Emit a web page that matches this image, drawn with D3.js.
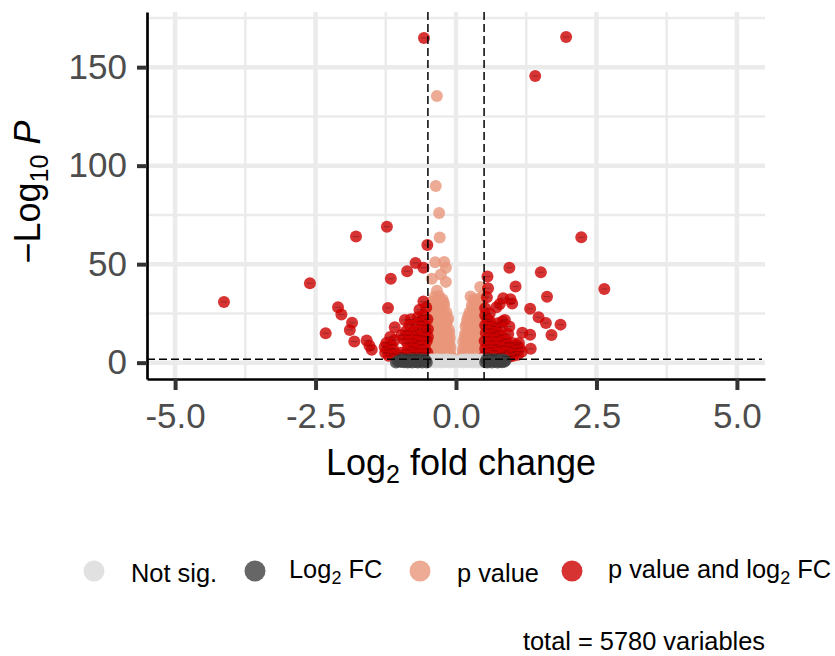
<!DOCTYPE html>
<html>
<head>
<meta charset="utf-8">
<script src="https://cdn.jsdelivr.net/npm/d3@7"></script>
<style type="text/css">
  html, body { margin: 0; padding: 0; background: white; }
  svg { display: block; }
  text { font-family: 'Liberation Sans', Arial, sans-serif; }
  .tickLabel { fill: #4d4d4d; font-size: 35px; }
  .title { fill: black; font-size: 36px; }
  .legendText { fill: black; font-size: 25.4px; }
</style>
</head>
<body>
<svg id="chart" width="835" height="656"></svg>
<script>

var xTicks = [-5, -2.5, 0, 2.5, 5];
var xMinorTicks = [-3.75, -1.25, 1.25, 3.75];
var yTicks = [0, 50, 100, 150];
var yMinorTicks = [25, 75, 125, 175];
var fcCutoffs = [-0.5, 0.5];
var pCutoff = 1.7;

var legendLabels = ['Not sig.', 'Log2 FC', 'p value', 'p value and log2 FC'];
var captionText = 'total = 5780 variables';

// [log2 fold change, -log10 p]
var notSigPoints = [
  [-0.49,0.4],[-0.47,1.3],[-0.45,0.2],[-0.43,1.7],[-0.41,0.8],[-0.39,1.5],[-0.37,0.1],[-0.35,1.1],[-0.33,1.7],[-0.31,0.4],
  [-0.29,1.3],[-0.27,0.1],[-0.25,1.6],[-0.23,0.7],[-0.21,1.2],[-0.19,0.2],[-0.17,1.7],[-0.15,0.5],[-0.13,1.1],[-0.11,0.1],
  [-0.09,1.5],[-0.07,0.6],[-0.05,1.2],[-0.03,0.3],
  [0.05,0.3],[0.07,1.2],[0.09,0.6],[0.11,1.6],[0.13,0.1],[0.15,1.1],[0.17,0.5],[0.19,1.7],[0.21,0.2],[0.23,1.3],
  [0.25,0.7],[0.27,1.6],[0.29,0.1],[0.31,1.2],[0.33,0.4],[0.35,1.7],[0.37,0.8],[0.39,0.1],[0.41,1.4],[0.43,0.5],
  [0.45,1.7],[0.47,0.2],[0.49,1.1]
];
var fcPoints = [
  [-1.07,0.1],[-1.04,0.7],[-1.01,1.0],[-0.98,0.3],[-0.96,1.7],[-0.94,1.1],[-0.92,0.2],[-0.9,0.8],[-0.88,1.6],[-0.86,0.1],
  [-0.84,1.2],[-0.82,0.5],[-0.8,1.7],[-0.78,0.1],[-0.76,1],[-0.74,1.6],[-0.72,0.3],[-0.7,1.2],[-0.68,0.1],[-0.66,1.7],
  [-0.64,0.6],[-0.62,1.2],[-0.6,0.1],[-0.58,1.6],[-0.56,0.6],[-0.54,1.2],[-0.52,0.1],
  [0.52,0.2],[0.54,1.3],[0.56,0.1],[0.58,1.7],[0.6,0.8],[0.62,1.5],[0.64,0.1],[0.66,1.1],[0.68,1.7],[0.7,0.4],
  [0.72,1.2],[0.74,0.1],[0.76,1.6],[0.78,0.6],[0.8,1.1],[0.82,0.2],[0.84,1.6],[0.86,0.5],[0.88,1.1]
];
var pPoints = [
  [-0.36,89.7],[-0.3,76],[-0.29,63.5],[-0.37,51],[-0.21,51.1],[-0.18,48.2],[-0.27,44.7],[-0.43,42.6],[-0.18,41],[-0.34,135.4],
  [-0.34,36.5],[-0.38,33.5],[-0.3,33.8],[-0.24,32],[-0.42,31],[-0.35,30.5],[-0.28,29.6],[-0.21,29],[-0.45,27],[-0.38,26.5],
  [-0.32,27],[-0.25,26],[-0.17,25.5],[-0.47,23],[-0.41,23.5],[-0.35,22.6],[-0.28,22.8],[-0.21,22],[-0.15,21.5],[-0.47,18.5],
  [-0.4,19],[-0.33,18],[-0.26,18.6],[-0.19,17.5],[-0.13,17],[-0.48,14],[-0.42,14.6],[-0.36,13.6],[-0.29,14],[-0.22,13.5],
  [-0.16,13.2],[-0.11,12.5],[-0.47,9.5],[-0.41,10],[-0.34,9.2],[-0.27,9.8],[-0.2,9],[-0.14,8.8],[-0.1,8],[-0.48,5],
  [-0.42,5.6],[-0.35,4.8],[-0.28,5.3],[-0.21,4.6],[-0.15,4.4],[-0.1,4],
  [-0.31,32],[-0.36,28.5],[-0.27,31],[-0.43,28.8],[-0.22,30.6],[-0.44,25],[-0.39,24.6],[-0.33,24.8],[-0.27,24.2],[-0.2,24.5],
  [-0.45,21],[-0.38,20.8],[-0.31,20.5],[-0.24,20.2],[-0.17,19.8],[-0.14,22.5],[-0.44,16.5],[-0.37,16.2],[-0.3,16],[-0.23,15.8],
  [-0.16,15.4],[-0.12,15],[-0.45,12],[-0.39,12],[-0.32,11.6],[-0.25,11.4],[-0.18,11],[-0.12,10.6],[-0.44,7.5],[-0.38,7.2],
  [-0.31,7],[-0.24,7.2],[-0.17,6.6],[-0.11,6.2],[-0.45,3.2],[-0.38,3],[-0.31,3.4],[-0.24,3],[-0.17,3.2],[-0.12,3],
  [0.43,38.4],[0.26,33.6],[0.48,34],[0.35,30.5],[0.44,30],[0.28,29],[0.4,26.5],[0.24,25.5],[0.32,26],[0.48,26],
  [0.2,22],[0.27,21.6],[0.36,22.4],[0.44,21.8],[0.17,18.5],[0.23,18],[0.31,18.2],[0.39,17.6],[0.47,18],[0.16,14.5],
  [0.21,14],[0.28,13.6],[0.35,14.2],[0.42,13.5],[0.48,14],[0.13,10.5],[0.19,10],[0.25,9.6],[0.32,10.2],[0.39,9.5],
  [0.45,10],[0.12,6.5],[0.17,6],[0.23,5.6],[0.3,6.2],[0.36,5.5],[0.43,6],[0.48,5.4],[0.11,3.4],[0.2,3],[0.33,3.2],[0.41,3],
  [0.31,32],[0.4,32.5],[0.46,31.5],[0.3,28],[0.38,28.4],[0.45,28],[0.27,24.2],[0.34,24],[0.41,24.2],[0.47,23.8],
  [0.22,23.5],[0.25,20],[0.32,20],[0.39,20.2],[0.46,20],[0.19,19.8],[0.2,16],[0.27,16],[0.34,16.2],[0.41,15.8],
  [0.47,16],[0.15,12.5],[0.22,12],[0.29,11.8],[0.36,12],[0.43,11.6],[0.48,12],[0.15,8.2],[0.21,8],[0.28,7.8],
  [0.35,8],[0.42,7.8],[0.48,8],[0.14,4.6],[0.24,4.4],[0.28,3.4],[0.38,4],[0.46,3.6]
];
var bothPoints = [
  [-0.57,164.8],[1.96,165.3],[1.41,145.5],[-4.13,30.8],[-2.6,40.3],[-1.78,64],[-1.23,69],[-0.51,59.7],[-0.72,50.6],[-0.58,48.2],
  [-0.87,46.4],[-1.16,42.6],[-2.1,28.1],[-2.04,24.4],[-1.21,27.8],[-1.85,20.3],[-1.89,16.6],[-2.32,14.9],[-1.81,10.7],[-1.59,11.2],
  [-1.54,8.6],[-1.5,6.5],[-1.09,18],[-0.91,21.7],[-0.58,31],[-0.65,26.8],
  [-1.26,5],[-1.27,8],[-1.24,10],[-1.22,6.5],[-1.2,3.5],[-1.17,13],[-1.15,9],[-1.14,4.5],[-1.12,7],[-1.09,11.5],
  [-1.04,4],[-0.98,5],[-0.97,14],[-0.93,12],[-0.9,4.2],[-0.89,16],[-0.87,10],
  [-0.86,6.5],[-0.85,14],[-0.83,19],[-0.82,3.6],[-0.8,22],[-0.79,8],[-0.78,12],[-0.76,5],[-0.75,16],[-0.74,10],
  [-0.72,19.5],[-0.71,14],[-0.7,3.8],[-0.69,7],[-0.68,23],[-0.66,11],[-0.64,17],[-0.63,5],[-0.62,21],[-0.61,9],
  [-0.6,13.5],[-0.58,24],[-0.57,3.5],[-0.56,19],[-0.55,7],[-0.54,15.5],[-0.53,28],[-0.52,11],[-0.51,22],[-0.51,5],
  [-0.5,17],[-0.5,13],
  [2.23,63.6],[2.64,37.4],[0.95,48.2],[1.51,45.9],[0.56,43.7],[1.06,38.6],[0.57,37.8],[1.62,33.5],[0.55,33.2],[0.84,32.7],
  [0.97,32.2],[1,30],[0.78,29.8],[0.72,28.1],[1.32,27.4],[1.47,23],[1.6,20.1],[1.86,19.3],[1.7,14],[1.33,7],
  [1.32,14.2],[1.18,15.2],[0.87,21.7],[0.95,18.3],[0.52,27.6],
  [0.51,3.5],[0.52,7],[0.51,11],[0.53,15],[0.52,19],[0.52,24],[0.56,22],[0.55,5],[0.57,9],[0.58,13],
  [0.59,17],[0.6,25],[0.6,21],[0.61,4],[0.63,7.5],[0.64,11],[0.66,15],[0.66,18.5],[0.68,3.6],[0.69,6],
  [0.7,9],[0.72,13],[0.73,16],[0.74,20],[0.76,4.5],[0.77,8],[0.79,11],[0.8,14],[0.81,18],[0.83,21],
  [0.84,5],[0.85,8.5],[0.87,3.2],[0.88,12],[0.9,6],[0.91,10],[0.93,14.5],[0.95,3],[0.96,8],[0.98,5],
  [1,10],[1.02,3.5],[1.04,7],[1.06,5.5],[1.08,9],[1.1,4],[1.13,7.5],[1.17,5.5],[1.12,10]
];

var margin = {left: 147, top: 12, right: 70, bottom: 277};
var width = 835 - margin.left - margin.right;
var height = 656 - margin.top - margin.bottom;

var x = d3.scaleLinear().domain([-5.5, 5.5]).range([0, width]);
var y = d3.scaleLinear().domain([-8.3, 178]).range([height, 0]);

var svg = d3.select('#chart');
var g = svg.append('g').attr('transform', 'translate(' + margin.left + ',' + margin.top + ')');

// grid
function gridV(ticks, w) {
  g.selectAll(null).data(ticks).enter().append('line')
    .attr('x1', function(d) { return x(d); }).attr('x2', function(d) { return x(d); })
    .attr('y1', 0).attr('y2', height)
    .attr('stroke', '#ebebeb').attr('stroke-width', w);
}
function gridH(ticks, w) {
  g.selectAll(null).data(ticks).enter().append('line')
    .attr('y1', function(d) { return y(d); }).attr('y2', function(d) { return y(d); })
    .attr('x1', 0).attr('x2', width)
    .attr('stroke', '#ebebeb').attr('stroke-width', w);
}
gridV(xMinorTicks, 2.5);
gridH(yMinorTicks, 2.5);
gridV(xTicks, 4.5);
gridH(yTicks, 4.5);

// points
var layers = [
  {data: pPoints, color: '#e9967a'},
  {data: bothPoints, color: '#cd0000'},
  {data: notSigPoints, color: '#d9d9d9'},
  {data: fcPoints, color: '#404040'}
];
layers.forEach(function(layer) {
  g.append('g').selectAll('circle').data(layer.data).enter().append('circle')
    .attr('cx', function(d) { return x(d[0]); })
    .attr('cy', function(d) { return y(d[1]); })
    .attr('r', 6)
    .attr('fill', layer.color)
    .attr('fill-opacity', 0.8);
});

// little dark dash in the middle of the red points
g.append('g').selectAll('line').data(bothPoints).enter().append('line')
  .attr('x1', function(d) { return x(d[0]) - 3; })
  .attr('x2', function(d) { return x(d[0]) + 3; })
  .attr('y1', function(d) { return y(d[1]); })
  .attr('y2', function(d) { return y(d[1]); })
  .attr('stroke', 'black').attr('stroke-opacity', 0.25).attr('stroke-width', 1);

// cutoffs
g.selectAll(null).data(fcCutoffs).enter().append('line')
  .attr('x1', function(d) { return x(d); }).attr('x2', function(d) { return x(d); })
  .attr('y1', 0).attr('y2', height)
  .attr('stroke', 'black').attr('stroke-width', 1.5).attr('stroke-dasharray', '8,4');
g.append('line')
  .attr('x1', 0).attr('x2', width - 3)
  .attr('y1', y(pCutoff)).attr('y2', y(pCutoff))
  .attr('stroke', 'black').attr('stroke-width', 1.5).attr('stroke-dasharray', '8,4');

// axes
var xAxis = g.append('g').attr('transform', 'translate(0,' + height + ')')
  .call(d3.axisBottom(x).tickValues(xTicks).tickFormat(d3.format('.1f')).tickSize(11).tickSizeOuter(0).tickPadding(13));
var yAxis = g.append('g')
  .call(d3.axisLeft(y).tickValues(yTicks).tickSize(10).tickSizeOuter(0).tickPadding(10));

[xAxis, yAxis].forEach(function(a) {
  a.select('.domain').attr('stroke', 'black').attr('stroke-width', 2.7);
  a.selectAll('.tick line').attr('stroke', '#333333').attr('stroke-width', 4);
  a.selectAll('.tick text').attr('class', 'tickLabel');
  a.attr('font-size', null).attr('font-family', null);
});
xAxis.selectAll('.tick text').text(function(d) { return d3.format('.1f')(d).replace('\u2212', '-'); });

// axis titles
var xTitle = svg.append('text').attr('class', 'title').attr('x', 461).attr('y', 475).attr('text-anchor', 'middle');
xTitle.append('tspan').text('Log');
xTitle.append('tspan').attr('dy', 8).style('font-size', '25px').text('2');
xTitle.append('tspan').attr('dy', -8).text(' fold change');

var yTitle = svg.append('text').attr('class', 'title')
  .attr('transform', 'translate(40,192) rotate(-90)').attr('text-anchor', 'middle');
yTitle.append('tspan').text('\u2212Log');
yTitle.append('tspan').attr('dy', 8).style('font-size', '25px').text('10');
yTitle.append('tspan').attr('dy', -8).text(' ');
yTitle.append('tspan').style('font-style', 'italic').text('P');

// legend
var legendX = [94, 255, 420, 572];
var legendColors = ['#d9d9d9', '#404040', '#e9967a', '#cd0000'];
var legendTextX = [131, 289, 457, 608];
svg.selectAll(null).data(legendX).enter().append('circle')
  .attr('cx', function(d) { return d; }).attr('cy', 571).attr('r', 10.5)
  .attr('fill', function(d, i) { return legendColors[i]; })
  .attr('fill-opacity', 0.8);

legendLabels.forEach(function(label, i) {
  var t = svg.append('text').attr('class', 'legendText').attr('x', legendTextX[i]);
  var isLog = label.indexOf('Log2') == 0;
  if (label.indexOf('og2') >= 0) {
    var parts = isLog ? ['', ' FC'] : label.split('log2');
    t.attr('y', 578);
    t.append('tspan').text(isLog ? 'Log' : parts[0] + 'log');
    t.append('tspan').attr('dy', 6).style('font-size', '18px').text('2');
    t.append('tspan').attr('dy', -6).text(parts[1]);
  } else {
    t.attr('y', 582).text(label);
  }
});

svg.append('text').attr('class', 'legendText').attr('x', 765).attr('y', 650)
  .attr('text-anchor', 'end').text(captionText);

</script>
</body>
</html>
